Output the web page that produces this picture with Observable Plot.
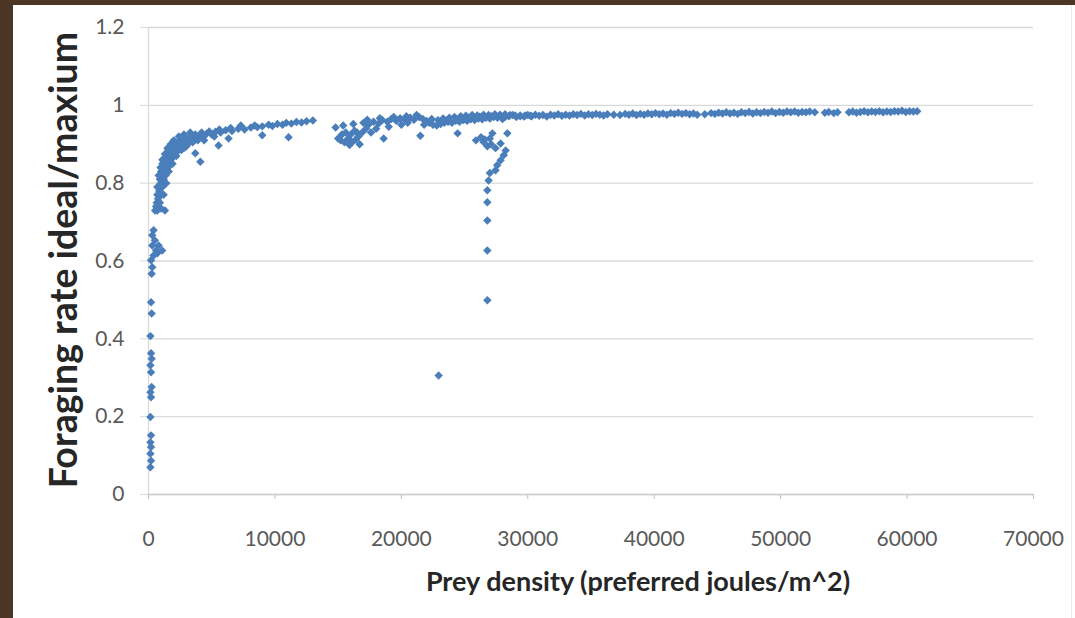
<!DOCTYPE html>
<html>
<head>
<meta charset="utf-8">
<script src="https://cdn.jsdelivr.net/npm/d3@7"></script>
<script src="https://cdn.jsdelivr.net/npm/@observablehq/plot@0.6"></script>
<style>
  html, body { margin: 0; padding: 0; }
  body { width: 1075px; height: 618px; background: #4d3525; position: relative; overflow: hidden; font-family: Lato, "Open Sans", sans-serif; }
  #panel { position: absolute; left: 13px; top: 5px; width: 1062px; height: 613px; background: #fff; }
  #edge { position: absolute; left: 1058px; top: 0; width: 1px; height: 613px; background: #ececec; }
  #chart { position: absolute; left: 0; top: 0; }
  .xtitle { position: absolute; left: 0; width: 1250px; top: 559px; text-align: center; font-weight: bold; font-size: 27px; color: #262626; white-space: nowrap; }
  .ytitle { position: absolute; left: 49px; top: 255px; width: 0; height: 0; }
  .ytitle span { position: absolute; transform: translate(-50%, -50%) rotate(-90deg); white-space: nowrap; font-weight: bold; font-size: 37.5px; color: #262626; }
</style>
</head>
<body>
<div id="panel">
  <div id="edge"></div>
  <div id="chart"></div>
  <div class="xtitle">Prey density (preferred joules/m^2)</div>
  <div class="ytitle"><span>Foraging rate ideal/maxium</span></div>
</div>
<script>
// ---- data ----
const xTicks = [0, 10000, 20000, 30000, 40000, 50000, 60000, 70000];
const yTicks = [0, 0.2, 0.4, 0.6, 0.8, 1, 1.2];

// near-zero vertical column
const nearZero = [
  [150,0.070],[200,0.087],[150,0.105],[200,0.122],[150,0.134],[200,0.152],[150,0.199],
  [200,0.250],[150,0.263],[250,0.276],[200,0.314],[150,0.332],[250,0.349],[200,0.363],
  [150,0.407],[250,0.465],[200,0.494],[250,0.567],[300,0.584],[200,0.602],[400,0.614],
  [600,0.627],[1080,0.627],[300,0.640],[800,0.640],[500,0.653],[300,0.666],[400,0.679],[700,0.62]
];

// steep rising band
const riseBand = [
  [520,0.73],[600,0.74],[700,0.73],[800,0.74],[1000,0.735],[1300,0.73],[650,0.75],[750,0.76],[900,0.75],
  [700,0.77],[850,0.78],[1000,0.77],[800,0.79],[950,0.80],[1100,0.79],[900,0.81],
  [1050,0.82],[1200,0.81],[1000,0.83],[1150,0.84],[1300,0.83],[1100,0.85],[1250,0.855],
  [1450,0.845],[1300,0.865],[1500,0.86],[1700,0.855],[1450,0.875],[1650,0.87],[1900,0.865],
  [1600,0.885],[1800,0.88],[2100,0.875],[1900,0.895],[2100,0.89],[2400,0.885],[2200,0.90],
  [2500,0.898],[2800,0.89],[2500,0.91],[2800,0.905],[3100,0.90],[2900,0.915],[3200,0.912],
  [3500,0.905],[3300,0.92],[3600,0.918],[3900,0.91],[3700,0.925],[4000,0.922],[4300,0.918],
  [4200,0.93],[4600,0.927],[5000,0.925],[4800,0.933],[5300,0.932],[5700,0.93],[5600,0.938],
  [6100,0.936],[6600,0.934],[6500,0.942],[7100,0.94],[7600,0.938],[7300,0.948],[8100,0.943],
  [8600,0.944],[8400,0.948],[9000,0.946],[9500,0.95],[9800,0.947],[10200,0.952],[10600,0.95],
  [10900,0.955],[11300,0.953],[11700,0.957],[12100,0.956],[12500,0.959],[13000,0.961],
  [1150,0.80],[1350,0.82],[1550,0.84],[1750,0.86],[2000,0.88],[2300,0.895],[2650,0.90],
  [3000,0.91],[3400,0.915],[3800,0.92],[1200,0.77],[1400,0.80],[1600,0.83],[1900,0.85],
  [2200,0.87],[2600,0.885],[3000,0.895],[700,0.79],[800,0.82],[950,0.84],[1100,0.86],
  [1300,0.875],[1500,0.89],[1750,0.90],[2000,0.91],[2400,0.92],[2800,0.925],[3300,0.93],
  [4400,0.91],[5200,0.92]
];
const riseOutliers = [
  [3700,0.877],[4100,0.855],[5540,0.897],[6330,0.915],[9000,0.923],[11080,0.918]
];

// cluster between 15000 and 22000
const midCluster = [
  [14800,0.943],[15200,0.91],[15500,0.905],[15800,0.915],[16100,0.905],[16400,0.912],
  [16700,0.90],[15600,0.93],[16000,0.925],[16300,0.935],[16600,0.92],[16900,0.93],
  [17200,0.94],[15400,0.948],[16200,0.952],[17000,0.955],[17400,0.95],[17800,0.958],
  [18200,0.953],[18500,0.962],[18900,0.958],[19200,0.965],[19600,0.96],[19900,0.967],
  [20300,0.962],[20700,0.968],[21000,0.963],[21400,0.97],[21700,0.965],[18600,0.915],
  [21500,0.922],[17600,0.93],[18000,0.94],[19000,0.945],[20000,0.95],[20500,0.955],
  [21800,0.95],[22000,0.96],[17300,0.963],[18300,0.967],[19400,0.97],[20400,0.972],[21200,0.975],
  [15000,0.915],[15900,0.898],[16500,0.93],[15300,0.925]
];

// band from 22000 to 30000
const band = [
  [22200,0.955],[22500,0.95],[22800,0.948],[23100,0.952],[23400,0.955],[23700,0.958],
  [24000,0.955],[24300,0.96],[24600,0.958],[24900,0.962],[25200,0.96],[25500,0.964],
  [25800,0.962],[26100,0.966],[26400,0.964],[26700,0.968],[27000,0.966],[27300,0.97],
  [27600,0.968],[27900,0.972],[28200,0.97],[22400,0.965],[22900,0.962],[23300,0.966],
  [23800,0.968],[24200,0.97],[24700,0.972],[25100,0.973],[25600,0.975],[26000,0.974],
  [26500,0.976],[26900,0.975],[27400,0.977],[27800,0.976],[28200,0.977],[28600,0.975],
  [29000,0.974],[29400,0.972],[29800,0.974],[30200,0.973],[25300,0.968],[26200,0.971],
  [27100,0.972],[28000,0.965],[24500,0.965],[23600,0.962]
];

// vertical drop near 26800 and its neighbours
const dropColumn = [
  [26800,0.499],[26800,0.627],[26800,0.704],[26800,0.751],[26800,0.782],[26900,0.807],
  [27000,0.826],[22950,0.306]
];
const dropCluster = [
  [25900,0.91],[26500,0.906],[27200,0.928],[28380,0.928],[27850,0.902],[27450,0.89],
  [28250,0.884],[28100,0.872],[27850,0.859],[27580,0.846],[27450,0.833],[26800,0.895],
  [27000,0.915],[26300,0.918],[24450,0.928],[26600,0.912],[27100,0.90]
];

// long plateau
const plateau = [
  [28500,0.972],[28800,0.975],[29100,0.97],[29400,0.974],[29700,0.971],[30000,0.975],
  [30300,0.972],[30600,0.976],[30900,0.973],[31200,0.975],[31500,0.971],[31800,0.976],
  [32100,0.974],[32400,0.977],[32700,0.973],[33000,0.976],[33300,0.974],[33600,0.977],
  [33900,0.975],[34200,0.978],[34500,0.974],[34800,0.977],[35100,0.975],[35400,0.978],
  [35700,0.976],[36000,0.974],[36300,0.977],[36800,0.976],[37300,0.975],[37700,0.978],
  [38000,0.976],[38300,0.979],[38600,0.975],[38900,0.978],[39200,0.976],[39500,0.979],
  [39800,0.977],[40100,0.98],[40400,0.977],[40700,0.979],[41000,0.976],[41300,0.98],
  [41600,0.978],[41900,0.981],[42200,0.978],[42500,0.98],[42800,0.977],[43100,0.979],
  [43400,0.976],[44000,0.977],[44500,0.98],[44800,0.978],[45100,0.981],[45400,0.979],
  [45700,0.982],[46000,0.979],[46300,0.981],[46600,0.978],[46900,0.982],[47200,0.98],
  [47500,0.983],[47800,0.979],[48100,0.982],[48400,0.98],[48700,0.983],[49000,0.981],
  [49300,0.984],[49600,0.98],[49900,0.983],[50200,0.981],[50500,0.984],[50800,0.982],
  [51100,0.984],[51400,0.981],[51700,0.983],[52000,0.982],[52300,0.984],[52700,0.982],
  [53500,0.981],[53800,0.983],[54200,0.98],[54500,0.982],[55400,0.982],[55700,0.984],
  [56000,0.981],[56300,0.983],[56600,0.985],[56900,0.982],[57200,0.984],[57500,0.983],
  [57800,0.985],[58100,0.982],[58400,0.984],[58700,0.983],[59000,0.985],[59300,0.984],
  [59600,0.986],[59900,0.983],[60200,0.985],[60500,0.984],[60800,0.985]
];

const points = [...nearZero, ...riseBand, ...riseOutliers, ...midCluster, ...band,
  ...dropColumn, ...dropCluster, ...plateau].map(([x, y]) => ({x, y}));

const chart = Plot.plot({
  width: 1062,
  height: 613,
  marginLeft: 135,
  marginRight: 42,
  marginTop: 22,
  marginBottom: 124,
  style: { fontFamily: "Lato, 'Open Sans', sans-serif", background: "transparent", color: "#595959" },
  x: { domain: [0, 70000] },
  y: { domain: [0, 1.2] },
  marks: [
    Plot.gridY(yTicks, { stroke: "#d9d9d9", strokeOpacity: 1, strokeWidth: 1.3 }),
    Plot.axisY(yTicks, {
      tickSize: 8, tickPadding: 16, stroke: "#d9d9d9", fontSize: 21, fill: "#595959",
      tickFormat: d => String(d), label: null
    }),
    Plot.axisX(xTicks, {
      tickSize: 5, tickPadding: 32, stroke: "#bfbfbf", fontSize: 21, fill: "#595959",
      tickFormat: d => String(d), label: null
    }),
    Plot.ruleY([0], { stroke: "#cfcfcf", strokeWidth: 1.3 }),
    Plot.ruleX([0], { stroke: "#d9d9d9", strokeWidth: 1.3 }),
    Plot.dot(points, { x: "x", y: "y", symbol: "diamond2", r: 3.8, fill: "#4a7ebb", stroke: "none" })
  ]
});
document.getElementById("chart").appendChild(chart);
</script>
</body>
</html>
